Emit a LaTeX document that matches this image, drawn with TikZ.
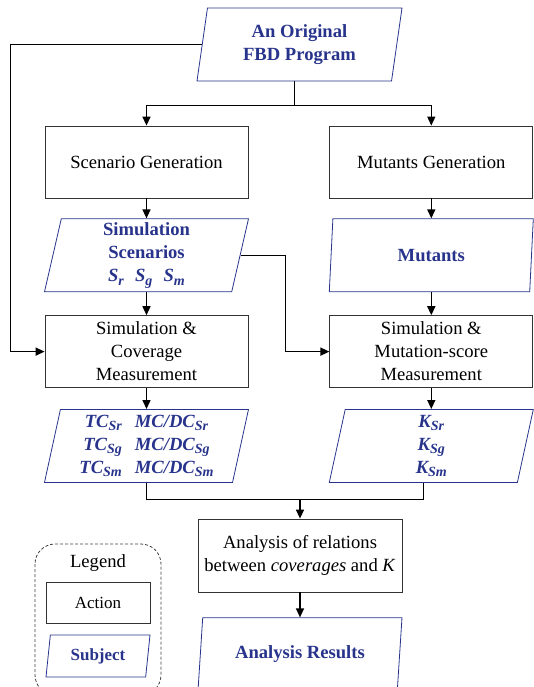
\documentclass[tikz,border=0pt]{standalone}
\usepackage{fontspec}
\setmainfont{Liberation Serif}
\usepackage{xcolor}
\usetikzlibrary{arrows.meta, positioning, shapes.geometric}

\definecolor{subjblue}{RGB}{40,52,140}
\newcommand{\lowsub}[1]{\raisebox{-3.5pt}{\fontsize{14}{14}\selectfont #1}}

\begin{document}
\begin{tikzpicture}[
    x=1pt, y=1pt,
    node distance=21pt and 81pt,
    actbox/.style={
        rectangle,
        draw=black!80,
        line width=0.8pt,
        minimum width=203pt,
        minimum height=72pt,
        align=center,
        inner sep=2pt,
        font=\fontsize{18.6}{23}\selectfont
    },
    subjbox/.style={
        trapezium,
        trapezium left angle=76,
        trapezium right angle=104,
        trapezium stretches body=true,
        draw=subjblue,
        line width=0.8pt,
        minimum width=204pt,
        minimum height=73pt,
        align=center,
        inner sep=1pt,
        text=subjblue,
        font=\fontsize{18.6}{23}\selectfont\bfseries
    },
    line/.style={
        draw,
        line width=1.4pt,
        black
    },
    arrowline/.style={
        line,
        -{Triangle[length=9pt, width=8pt]}
    }
]
    \useasboundingbox (0,0) rectangle (533,-687);

    % input program
    \node [subjbox, minimum width=205pt] (orig) at (299.5,-44.5) {An Original\\FBD Program};

    % left column
    \node [actbox] (scengen) at (146.5,-162) {Scenario Generation};
    \node [subjbox, below=20pt of scengen] (simscen) {
        Simulation\\Scenarios\\
        \textit{S\lowsub{r}\hspace{0.6em}S\lowsub{g}\hspace{0.6em}S\lowsub{m}}
    };
    \node [actbox, below=23pt of simscen] (simcov) {Simulation \&\\Coverage\\Measurement};
    \node [subjbox, below=21pt of simcov] (tc) {
        \textit{TC\lowsub{Sr}\hspace{0.7em}MC/DC\lowsub{Sr}}\\
        \textit{TC\lowsub{Sg}\hspace{0.7em}MC/DC\lowsub{Sg}}\\
        \textit{TC\lowsub{Sm}\hspace{0.7em}MC/DC\lowsub{Sm}}
    };

    % right column
    \node [actbox, right=of scengen] (mutgen) {Mutants Generation};
    \node [subjbox, below=20pt of mutgen] (mutants) {Mutants};
    \node [actbox, below=23pt of mutants] (simmut) {Simulation \&\\Mutation-score\\Measurement};
    \node [subjbox, below=21pt of simmut] (kvals) {
        \textit{K\lowsub{Sr}}\\
        \textit{K\lowsub{Sg}}\\
        \textit{K\lowsub{Sm}}
    };

    % analysis
    \node [actbox, minimum width=204pt, minimum height=73pt] (analysis) at (300,-555.5) {
        Analysis of relations\\between \textit{coverages} and \textit{K}
    };
    \node [subjbox, below=25pt of analysis] (results) {Analysis Results};

    % legend
    \draw [black!75, line width=0.8pt, dash pattern=on 3pt off 2pt, rounded corners=20pt]
        (35,-544) rectangle (161,-695);
    \node [font=\fontsize{18.6}{23}\selectfont] (legend) at (98,-563) {Legend};
    \node [actbox, minimum width=104pt, minimum height=41pt, font=\fontsize{17}{20}\selectfont]
        (action) at (98,-602.5) {Action};
    \node [subjbox, minimum width=104pt, minimum height=42pt, font=\fontsize{17}{20}\selectfont\bfseries]
        (subject) at (98,-656) {Subject};

    % connectors
    \coordinate (split) at ([yshift=-24pt]orig.bottom side);
    \draw [line] (orig.bottom side) -- (split);
    \draw [arrowline] (split) -| (scengen.north);
    \draw [arrowline] (split) -| (mutgen.north);

    \draw [arrowline] (scengen.south) -- (simscen.north);
    \draw [arrowline] (simscen.south) -- (simcov.north);
    \draw [arrowline] (simcov.south) -- (tc.north);

    \draw [arrowline] (mutgen.south) -- (mutants.north);
    \draw [arrowline] (mutants.south) -- (simmut.north);
    \draw [arrowline] (simmut.south) -- (kvals.north);

    \draw [arrowline] (orig.left side) -- ++(-191.5pt,0) |- (simcov.west);
    \draw [arrowline] (simscen.right side) -- ++(45pt,0) |- (simmut.west);

    \coordinate (merge) at ([yshift=19pt]analysis.north);
    \draw [line] (tc.south) |- (merge) -| (kvals.bottom side);
    \draw [arrowline] (merge) -- (analysis.north);
    \draw [arrowline] (analysis.south) -- (results.north);

\end{tikzpicture}
\end{document}
